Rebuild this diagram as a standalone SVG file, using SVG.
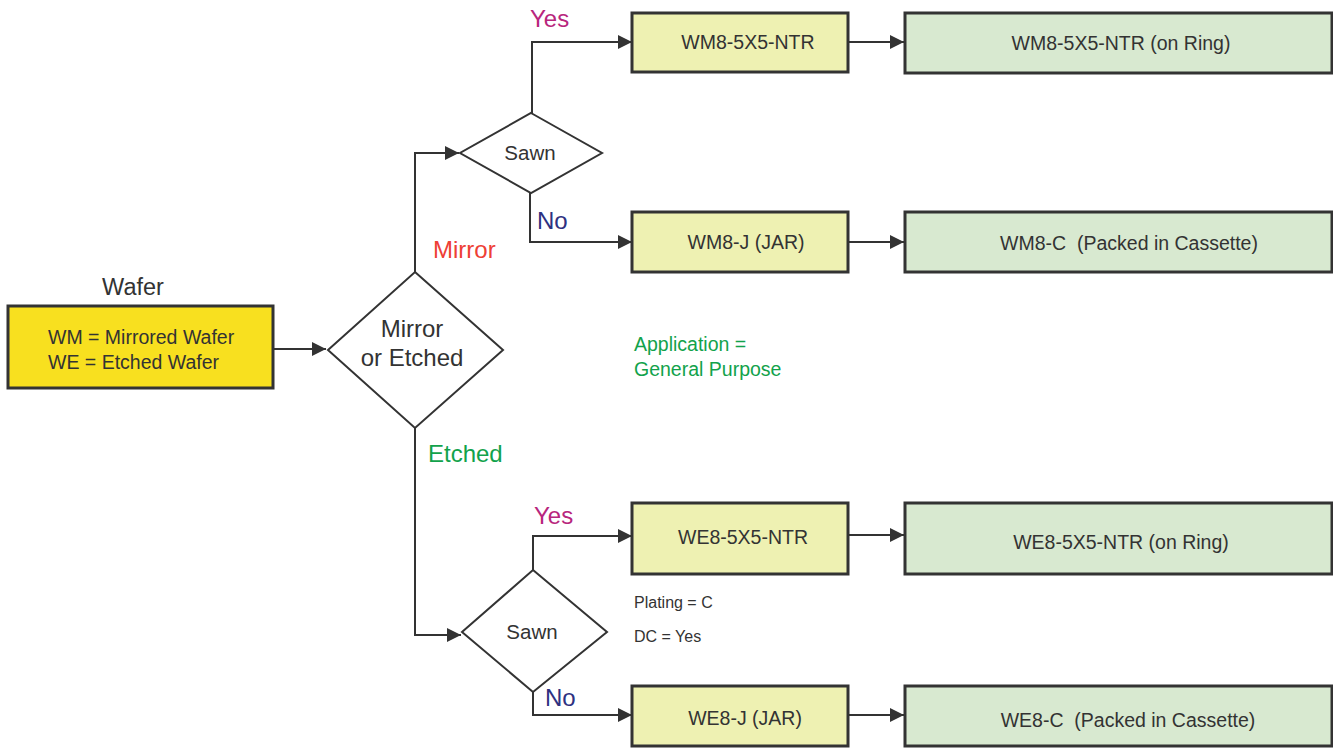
<svg xmlns="http://www.w3.org/2000/svg" width="1333" height="748" viewBox="0 0 1333 748">
<style>
text{font-family:"Liberation Sans",Arial,sans-serif;fill:#333333}
.box{stroke:#333333;stroke-width:3}
.wafer{fill:#F8E01F}
.prod{fill:#EEF1B2}
.fin{fill:#D8E9D0}
.dia{fill:#FFFFFF;stroke:#333333;stroke-width:2}
.conn{fill:none;stroke:#333333;stroke-width:2}
.lbl{font-size:19.5px;text-anchor:middle;white-space:pre}
</style>
<defs>
<marker id="arr" markerUnits="userSpaceOnUse" markerWidth="16" markerHeight="16" refX="14" refY="7" orient="auto">
<path d="M0,0 L14,7 L0,14 Z" fill="#333333"/>
</marker>
</defs>
<rect width="1333" height="748" fill="#FFFFFF"/>

<g id="connectors">
<line class="conn" x1="273" y1="349" x2="326" y2="349" marker-end="url(#arr)"/>
<polyline class="conn" points="415,272 415,153 459,153" marker-end="url(#arr)"/>
<polyline class="conn" points="415,428 415,635 461,635" marker-end="url(#arr)"/>
<polyline class="conn" points="532,113 532,42 632,42" marker-end="url(#arr)"/>
<polyline class="conn" points="530,193 530,242 632,242" marker-end="url(#arr)"/>
<polyline class="conn" points="533,570 533,536 632,536" marker-end="url(#arr)"/>
<polyline class="conn" points="533,692 533,715 632,715" marker-end="url(#arr)"/>
<line class="conn" x1="848" y1="42" x2="904" y2="42" marker-end="url(#arr)"/>
<line class="conn" x1="848" y1="242" x2="904" y2="242" marker-end="url(#arr)"/>
<line class="conn" x1="848" y1="535" x2="904" y2="535" marker-end="url(#arr)"/>
<line class="conn" x1="848" y1="715" x2="904" y2="715" marker-end="url(#arr)"/>
</g>

<g id="wafer">
<text x="133" y="295" font-size="23.5" text-anchor="middle">Wafer</text>
<rect class="box wafer" x="8" y="306" width="265" height="82"/>
<text x="48" y="344" font-size="19.5">WM = Mirrored Wafer</text>
<text x="48" y="369" font-size="19.5">WE = Etched Wafer</text>
</g>

<g id="mirror-or-etched">
<polygon class="dia" points="415,272 503,350 415,428 328,350"/>
<text x="412" y="337" font-size="24" text-anchor="middle">Mirror</text>
<text x="412" y="366" font-size="24" text-anchor="middle">or Etched</text>
</g>

<g id="sawn-mirror">
<polygon class="dia" points="531,113 602,153 531,193 460,153"/>
<text x="530" y="160" font-size="20.5" text-anchor="middle">Sawn</text>
</g>

<g id="sawn-etched">
<polygon class="dia" points="533,570 607,632 533,692 462,632"/>
<text x="532" y="639" font-size="20.5" text-anchor="middle">Sawn</text>
</g>

<g id="wm8-5x5-ntr">
<rect class="box prod" x="632" y="13" width="216" height="59"/>
<text class="lbl" x="748" y="49">WM8-5X5-NTR</text>
</g>
<g id="wm8-j">
<rect class="box prod" x="632" y="212" width="216" height="60"/>
<text class="lbl" x="746" y="249">WM8-J (JAR)</text>
</g>
<g id="we8-5x5-ntr">
<rect class="box prod" x="632" y="503" width="216" height="71"/>
<text class="lbl" x="743" y="544">WE8-5X5-NTR</text>
</g>
<g id="we8-j">
<rect class="box prod" x="632" y="686" width="216" height="60"/>
<text class="lbl" x="745" y="725">WE8-J (JAR)</text>
</g>

<g id="wm8-5x5-ntr-ring">
<rect class="box fin" x="905" y="13" width="427" height="60"/>
<text class="lbl" x="1121" y="50">WM8-5X5-NTR (on Ring)</text>
</g>
<g id="wm8-c">
<rect class="box fin" x="905" y="212" width="427" height="60"/>
<text class="lbl" x="1129" y="250">WM8-C  (Packed in Cassette)</text>
</g>
<g id="we8-5x5-ntr-ring">
<rect class="box fin" x="905" y="503" width="427" height="71"/>
<text class="lbl" x="1121" y="549">WE8-5X5-NTR (on Ring)</text>
</g>
<g id="we8-c">
<rect class="box fin" x="905" y="686" width="427" height="60"/>
<text class="lbl" x="1128" y="727">WE8-C  (Packed in Cassette)</text>
</g>

<g id="labels">
<text x="530" y="27" font-size="24" style="fill:#B8267D">Yes</text>
<text x="537" y="229" font-size="24" style="fill:#2E3181">No</text>
<text x="433" y="258" font-size="24" style="fill:#EE4035">Mirror</text>
<text x="428" y="462" font-size="24" style="fill:#12A24B">Etched</text>
<text x="534" y="524" font-size="24" style="fill:#B8267D">Yes</text>
<text x="545" y="706" font-size="24" style="fill:#2E3181">No</text>
<text x="634" y="351" font-size="19.5" style="fill:#12A24B">Application =</text>
<text x="634" y="376" font-size="19.5" style="fill:#12A24B">General Purpose</text>
<text x="634" y="608" font-size="16" style="font-size:16px">Plating = C</text>
<text x="634" y="642" font-size="16">DC = Yes</text>
</g>
</svg>
